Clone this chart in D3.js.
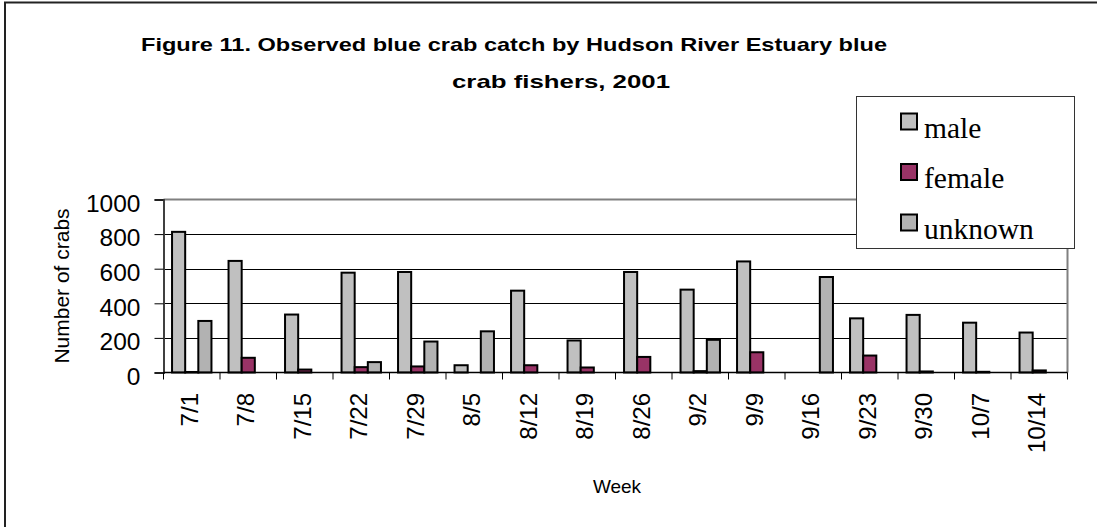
<!DOCTYPE html>
<html>
<head>
<meta charset="utf-8">
<script src="https://cdn.jsdelivr.net/npm/d3@7"></script>
<style>
  html, body { margin: 0; padding: 0; background: #fff; }
  svg { display: block; }
</style>
</head>
<body>
<svg id="chart" width="1097" height="527"></svg>
<script>
// Weekly observed catch, Hudson River Estuary blue crab fishery, 2001
const weeks = ["7/1", "7/8", "7/15", "7/22", "7/29", "8/5", "8/12", "8/19",
               "8/26", "9/2", "9/9", "9/16", "9/23", "9/30", "10/7", "10/14"];
const seriesNames = ["male", "female", "unknown"];
const male    = [813, 645, 335, 577, 581, 42, 473, 185, 581, 479, 642, 0, 313, 333, 288, 231];
const female  = [3, 85, 17, 31, 35, 0, 42, 29, 90, 8, 117, 0, 98, 6, 4, 12];
const unknown = [298, 0, 0, 60, 179, 238, 0, 0, 0, 189, 0, 552, 0, 0, 0, 0];
const yTicks  = [0, 200, 400, 600, 800, 1000];

const seriesValues = { male, female, unknown };
const seriesFill = { male: "#c0c0c0", female: "#993366", unknown: "#b2b2b2" };

const svg = d3.select("#chart");
const W = 1097, H = 527;

// outer chart frame (right and bottom edges fall outside the canvas)
svg.append("rect")
  .attr("x", 5).attr("y", 2.5)
  .attr("width", W + 20).attr("height", H + 20)
  .attr("fill", "#fff").attr("stroke", "#222").attr("stroke-width", 2);

const plot = { left: 163.5, right: 1067.5, top: 199.5, bottom: 372.5 };

const x = d3.scaleBand().domain(weeks).range([plot.left, plot.right]).padding(0);
const x1 = d3.scaleBand().domain(seriesNames).range([0, x.bandwidth()])
  .paddingInner(0).paddingOuter(0.65);
const y = d3.scaleLinear().domain([0, 1000]).range([plot.bottom, plot.top]);

// gridlines
svg.append("g")
  .selectAll("line")
  .data(yTicks.filter(d => d > 0 && d < 1000))
  .join("line")
  .attr("x1", plot.left).attr("x2", plot.right)
  .attr("y1", d => Math.round(y(d)) + 0.5).attr("y2", d => Math.round(y(d)) + 0.5)
  .attr("stroke", "#000").attr("stroke-width", 1);

// plot area border (top and right)
svg.append("path")
  .attr("d", `M${plot.left},${plot.top} H${plot.right} V${plot.bottom}`)
  .attr("fill", "none").attr("stroke", "#808080").attr("stroke-width", 2);

// bars
const groups = svg.append("g").selectAll("g")
  .data(weeks)
  .join("g")
  .attr("transform", d => `translate(${x(d)},0)`);

groups.selectAll("rect")
  .data((w, i) => seriesNames.map(s => ({ s, v: seriesValues[s][i] })).filter(d => d.v > 0))
  .join("rect")
  .attr("x", d => x1(d.s))
  .attr("width", x1.bandwidth())
  .attr("y", d => y(d.v))
  .attr("height", d => y(0) - y(d.v))
  .attr("fill", d => seriesFill[d.s])
  .attr("stroke", "#000")
  .attr("stroke-width", 2);

// y axis
const yAxis = svg.append("g")
  .attr("transform", `translate(${plot.left},0)`)
  .call(d3.axisLeft(y).tickValues(yTicks).tickSize(9).tickPadding(14).tickFormat(d3.format("d")));
yAxis.select(".domain").attr("stroke", "#404040").attr("stroke-width", 2);
yAxis.selectAll(".tick line").attr("stroke", "#000");
yAxis.selectAll(".tick text")
  .attr("font-family", "'Liberation Sans', Arial, sans-serif")
  .attr("font-size", 24.5).attr("fill", "#000").attr("dy", "0.48em");

// x axis line and category boundary ticks
svg.append("line")
  .attr("x1", plot.left).attr("x2", plot.right)
  .attr("y1", plot.bottom).attr("y2", plot.bottom)
  .attr("stroke", "#000").attr("stroke-width", 1.5);
svg.append("g").selectAll("line")
  .data(weeks.map(w => x(w)).concat([x.range()[1]]))
  .join("line")
  .attr("x1", d => d).attr("x2", d => d)
  .attr("y1", plot.bottom).attr("y2", plot.bottom + 7)
  .attr("stroke", "#000").attr("stroke-width", 1);

// rotated week labels
svg.append("g").selectAll("text")
  .data(weeks)
  .join("text")
  .attr("transform", d => `translate(${x(d) + x.bandwidth() / 2 + 6},393) rotate(-90)`)
  .attr("text-anchor", "end")
  .attr("font-family", "'Liberation Sans', Arial, sans-serif")
  .attr("font-size", 24)
  .text(d => d);

// axis titles
svg.append("text")
  .attr("x", 617).attr("y", 493)
  .attr("text-anchor", "middle")
  .attr("font-family", "'Liberation Sans', Arial, sans-serif")
  .attr("font-size", 19)
  .text("Week");

svg.append("text")
  .attr("transform", "translate(69,286) rotate(-90)")
  .attr("text-anchor", "middle")
  .attr("font-family", "'Liberation Sans', Arial, sans-serif")
  .attr("font-size", 21)
  .text("Number of crabs");

// chart title, two wrapped lines
const titleLines = [
  { text: "Figure 11. Observed blue crab catch by Hudson River Estuary blue", x: 141, y: 51, len: 746 },
  { text: "crab fishers, 2001", x: 452, y: 88, len: 218 }
];
svg.append("g").selectAll("text")
  .data(titleLines)
  .join("text")
  .attr("x", d => d.x).attr("y", d => d.y)
  .attr("textLength", d => d.len)
  .attr("lengthAdjust", "spacingAndGlyphs")
  .attr("font-family", "'Liberation Sans', Arial, sans-serif")
  .attr("font-weight", "bold")
  .attr("font-size", 19)
  .text(d => d.text);

// legend
const legend = svg.append("g");
legend.append("rect")
  .attr("x", 856.5).attr("y", 96.5).attr("width", 218).attr("height", 152)
  .attr("fill", "#fff").attr("stroke", "#333").attr("stroke-width", 1);
const items = legend.selectAll("g.item")
  .data(seriesNames)
  .join("g")
  .attr("class", "item")
  .attr("transform", (d, i) => `translate(0,${i * 50.5})`);
items.append("rect")
  .attr("x", 901).attr("y", 113.5).attr("width", 16).attr("height", 16)
  .attr("fill", d => seriesFill[d]).attr("stroke", "#000").attr("stroke-width", 2);
items.append("text")
  .attr("x", 924).attr("y", 137.5)
  .attr("font-family", "'Liberation Serif', 'Times New Roman', serif")
  .attr("font-size", 29.5)
  .text(d => d);
</script>
</body>
</html>
